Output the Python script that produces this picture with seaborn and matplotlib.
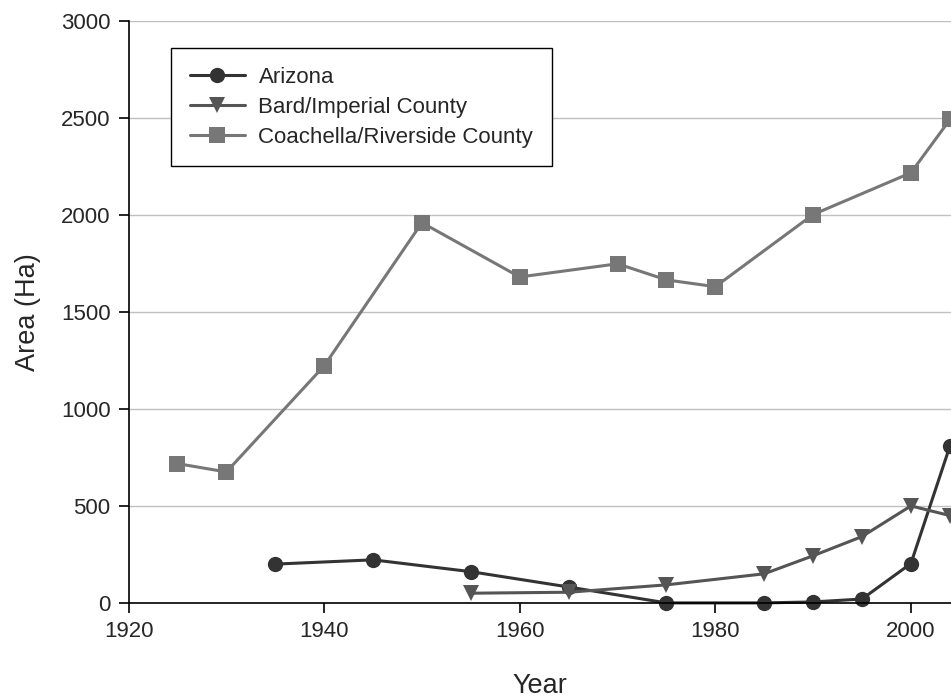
import pandas as pd
import matplotlib
matplotlib.use("Agg")
import matplotlib.pyplot as plt
import seaborn as sns

# --- data ---
arizona_years = [1935, 1945, 1955, 1965, 1975, 1985, 1990, 1995, 2000, 2004]
arizona_area = [200, 222, 161, 82, 0, 0, 5, 20, 203, 810]

bard_years = [1955, 1965, 1975, 1985, 1990, 1995, 2000, 2004]
bard_area = [50, 55, 93, 150, 243, 342, 500, 450]

coachella_years = [1925, 1930, 1940, 1950, 1960, 1970, 1975, 1980, 1990, 2000, 2004]
coachella_area = [718, 675, 1222, 1960, 1680, 1748, 1665, 1630, 2002, 2217, 2492]

series_names = ["Arizona", "Bard/Imperial County", "Coachella/Riverside County"]
series_colors = ["#333333", "#555555", "#777777"]
series_markers = ["o", "v", "s"]

rows = []
for name, yrs, vals in zip(series_names,
                           [arizona_years, bard_years, coachella_years],
                           [arizona_area, bard_area, coachella_area]):
    for y, v in zip(yrs, vals):
        rows.append({"Year": y, "Area": v, "Region": name})
df = pd.DataFrame(rows)

sns.set_style("white")
plt.rcParams['font.family'] = ['Liberation Sans', 'DejaVu Sans']

fig = plt.figure(figsize=(9.51, 6.97), dpi=100)
ax = fig.add_axes([0.1352, 0.135, 0.8648, 0.835])

sns.lineplot(data=df, x="Year", y="Area", hue="Region", style="Region",
             hue_order=series_names, style_order=series_names,
             palette=dict(zip(series_names, series_colors)),
             markers=dict(zip(series_names, series_markers)),
             dashes=False, linewidth=2.2, markersize=11,
             markeredgewidth=0, ax=ax, clip_on=False)

ax.set_xlim(1920, 2004.1)
ax.set_ylim(0, 3000)
ax.set_xticks([1920, 1940, 1960, 1980, 2000])
ax.set_yticks(range(0, 3001, 500))
ax.yaxis.grid(True, color="#c0c0c0", linewidth=1)
ax.xaxis.grid(False)

for s in ["top", "right"]:
    ax.spines[s].set_visible(False)
for s in ["left", "bottom"]:
    ax.spines[s].set_color("black")
    ax.spines[s].set_linewidth(1.2)

ax.tick_params(axis="both", direction="out", length=7, width=1.2,
               color="black", labelsize=16, pad=6,
               bottom=True, left=True)

ax.set_xlabel("Year", fontsize=19.5, labelpad=22)
ax.set_ylabel("Area (Ha)", fontsize=19.5, labelpad=14)

leg = ax.legend(loc="upper left", bbox_to_anchor=(0.0512, 0.9536),
                borderaxespad=0, fontsize=16, frameon=True, fancybox=False,
                handlelength=2.5, handletextpad=0.6, borderpad=0.85,
                labelspacing=0.4)
leg.get_frame().set_edgecolor("black")
leg.get_frame().set_linewidth(1.0)
leg.get_frame().set_alpha(1)

fig.savefig("out.png", dpi=100)
